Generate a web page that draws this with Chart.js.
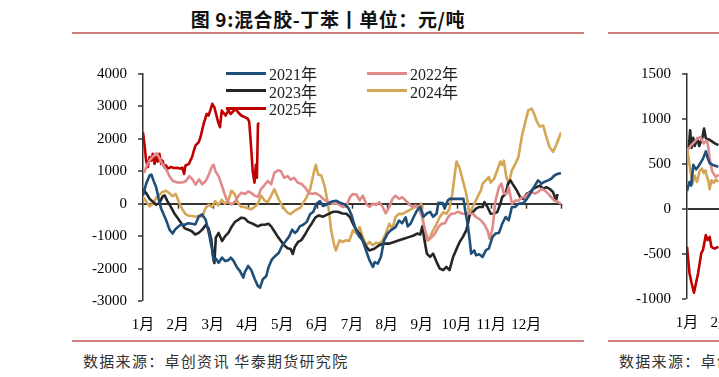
<!DOCTYPE html>
<html lang="zh-CN">
<head>
  <meta charset="UTF-8">
  <title>混合胶-丁苯</title>
  <script src="https://cdn.jsdelivr.net/npm/chart.js@4.4.1/dist/chart.umd.min.js"></script>
  <style>
    html, body { margin: 0; padding: 0; background: #fff; width: 719px; height: 377px; overflow: hidden; }
    body { position: relative; }
    .title { position: absolute; top: 8px; width: 512px; text-align: center; font: bold 19px "Noto Sans CJK SC", sans-serif; letter-spacing: 0.6px; color: #111; line-height: 22px; white-space: nowrap; }
    .rule { position: absolute; height: 2px; width: 512px; background: #d07f7f; }
    .source { position: absolute; top: 350px; font: 15px "Noto Sans CJK SC", sans-serif; color: #333; white-space: nowrap; letter-spacing: 1.3px; }
    .box { position: absolute; }
    .legend-item { position: absolute; height: 18px; display: flex; align-items: center; font: 16px "Liberation Serif", "Noto Sans CJK SC", serif; color: #222; white-space: nowrap; }
    .legend-item span.mark { display: inline-block; width: 40px; height: 3px; margin-right: 3px; }
  </style>
</head>
<body>
  <div class="title" style="left:72px">图 9:混合胶-丁苯丨单位：元/吨</div>
  <div class="rule" style="left:72px; top:32px"></div>
  <div class="rule" style="left:72px; top:340px"></div>
  <div class="source" style="left:83px">数据来源：卓创资讯 华泰期货研究院</div>

  <div class="title" style="left:608px">图 10:混合胶-顺丁丨单位：元/吨</div>
  <div class="rule" style="left:608px; top:32px"></div>
  <div class="rule" style="left:608px; top:340px"></div>
  <div class="source" style="left:619px">数据来源：卓创资讯 华泰期货研究院</div>

  <div class="box" style="left:88px; top:54px; width:480px; height:279px"><canvas id="main"></canvas></div>
  <div class="box" style="left:627px; top:54px; width:485px; height:277px"><canvas id="side"></canvas></div>
  <div id="legend"></div>

  <script>
    // month labels on the x axis
    const monthLabels = ['1月', '2月', '3月', '4月', '5月', '6月', '7月', '8月', '9月', '10月', '11月', '12月'];
    const seriesNames = ['2021年', '2022年', '2023年', '2024年', '2025年'];
    const seriesColors = ['#1f4e79', '#e08a8a', '#262626', '#d4a656', '#c00000'];

    // main chart: [month position, 元/吨]
    const spread2021 = [[0,250],[0.09,615],[0.19,870],[0.24,900],[0.3,720],[0.38,500],[0.45,150],[0.52,-150],[0.6,-350],[0.68,-550],[0.76,-800],[0.85,-920],[0.92,-800],[1.0,-720],[1.09,-640],[1.2,-650],[1.3,-600],[1.4,-620],[1.5,-640],[1.6,-400],[1.7,-330],[1.8,-500],[1.89,-900],[1.98,-1400],[2.03,-1750],[2.1,-1700],[2.17,-1820],[2.27,-1660],[2.36,-1770],[2.45,-1740],[2.52,-1660],[2.6,-1760],[2.69,-1950],[2.78,-2070],[2.88,-2280],[2.92,-2120],[3.02,-1920],[3.11,-2050],[3.21,-2330],[3.3,-2540],[3.36,-2590],[3.44,-2330],[3.54,-2230],[3.6,-1970],[3.7,-1720],[3.8,-1610],[3.9,-1510],[4.0,-1280],[4.1,-1150],[4.2,-1000],[4.28,-800],[4.36,-900],[4.42,-850],[4.5,-700],[4.6,-650],[4.7,-560],[4.8,-320],[4.89,-250],[4.98,0],[5.08,80],[5.17,-70],[5.26,-30],[5.4,60],[5.54,90],[5.68,20],[5.8,-30],[5.9,-140],[5.98,-330],[6.08,-700],[6.2,-1000],[6.3,-1120],[6.4,-1430],[6.5,-1740],[6.6,-1950],[6.65,-1800],[6.74,-1850],[6.83,-1640],[6.92,-1130],[7.02,-920],[7.11,-820],[7.25,-720],[7.35,-520],[7.44,-600],[7.54,-420],[7.6,-700],[7.68,-620],[7.77,-410],[7.86,-220],[7.96,-100],[8.05,-400],[8.15,-300],[8.24,-250],[8.33,-400],[8.43,-300],[8.48,30],[8.6,20],[8.66,-150],[8.75,100],[8.8,150],[9.0,150],[9.2,150],[9.25,-200],[9.33,-700],[9.38,-1130],[9.42,-1540],[9.51,-1440],[9.56,-1590],[9.65,-1560],[9.75,-1640],[9.84,-1440],[9.93,-1380],[10.03,-1030],[10.12,-920],[10.22,-900],[10.31,-620],[10.41,-410],[10.5,-510],[10.59,-100],[10.69,-100],[10.78,0],[10.92,20],[11.02,150],[11.11,300],[11.25,560],[11.34,720],[11.44,620],[11.53,680],[11.63,720],[11.72,770],[11.81,870],[11.9,920],[12.0,940]];
    const spread2022 = [[0.03,950],[0.1,1150],[0.2,1350],[0.29,1460],[0.39,1560],[0.45,1450],[0.52,1300],[0.6,1150],[0.67,1050],[0.76,850],[0.86,700],[1.0,650],[1.15,660],[1.23,700],[1.33,850],[1.42,750],[1.51,590],[1.61,750],[1.7,600],[1.8,700],[1.89,900],[1.98,1150],[2.03,1200],[2.08,1000],[2.17,850],[2.27,540],[2.36,240],[2.45,40],[2.55,-20],[2.64,60],[2.74,240],[2.83,340],[2.93,300],[3.02,380],[3.11,330],[3.2,250],[3.3,210],[3.39,460],[3.48,560],[3.58,700],[3.68,600],[3.77,950],[3.87,1030],[3.96,1000],[4.05,800],[4.15,850],[4.24,740],[4.34,800],[4.43,660],[4.56,600],[4.67,480],[4.76,330],[4.86,300],[4.94,330],[5.08,250],[5.17,150],[5.31,50],[5.45,0],[5.59,0],[5.73,-100],[5.84,-80],[5.94,200],[6.03,300],[6.13,280],[6.22,100],[6.31,250],[6.41,0],[6.5,-100],[6.6,0],[6.69,-40],[6.78,50],[6.88,-100],[6.97,-300],[7.07,-100],[7.16,150],[7.25,250],[7.35,150],[7.44,200],[7.54,100],[7.63,0],[7.73,-100],[7.82,-50],[7.91,-100],[8.01,-410],[8.1,-820],[8.19,-1130],[8.29,-1030],[8.38,-920],[8.48,-720],[8.57,-620],[8.67,-600],[8.76,-410],[8.85,-310],[8.95,-300],[9.04,-250],[9.18,-310],[9.33,-300],[9.47,-310],[9.56,-410],[9.7,-510],[9.79,-620],[9.89,-820],[9.95,-1080],[10.03,-800],[10.12,100],[10.22,510],[10.29,620],[10.36,310],[10.45,320],[10.5,510],[10.59,0],[10.69,100],[10.78,100],[10.88,200],[10.97,200],[11.06,310],[11.16,360],[11.25,310],[11.34,360],[11.44,460],[11.53,410],[11.63,310],[11.72,200],[11.81,100],[11.91,50],[12.0,0]];
    const spread2023 = [[0,450],[0.09,330],[0.19,150],[0.28,60],[0.38,-30],[0.47,20],[0.56,220],[0.62,260],[0.7,80],[0.8,-100],[0.9,-300],[1.0,-450],[1.1,-600],[1.2,-760],[1.3,-800],[1.4,-850],[1.5,-950],[1.6,-900],[1.7,-800],[1.8,-660],[1.88,-750],[1.96,-1100],[2.02,-1700],[2.05,-1830],[2.09,-1050],[2.17,-900],[2.27,-1150],[2.36,-1000],[2.45,-900],[2.55,-700],[2.64,-560],[2.73,-500],[2.82,-430],[2.92,-450],[3.02,-560],[3.11,-600],[3.21,-650],[3.3,-700],[3.4,-650],[3.5,-650],[3.6,-620],[3.68,-700],[3.77,-850],[3.86,-1000],[3.96,-1150],[4.05,-1280],[4.15,-1370],[4.24,-1400],[4.3,-1550],[4.36,-1330],[4.45,-1180],[4.55,-1120],[4.65,-950],[4.75,-760],[4.85,-600],[4.95,-420],[5.05,-360],[5.17,-400],[5.3,-330],[5.45,-250],[5.59,-250],[5.73,-300],[5.84,-310],[5.94,-410],[6.03,-620],[6.13,-820],[6.22,-920],[6.31,-1130],[6.41,-1330],[6.5,-1440],[6.64,-1390],[6.78,-1280],[6.92,-1230],[7.07,-1230],[7.21,-1180],[7.35,-1130],[7.49,-1080],[7.63,-1030],[7.77,-980],[7.87,-920],[7.96,-950],[8.02,-700],[8.08,-1130],[8.15,-1540],[8.24,-1640],[8.33,-1540],[8.43,-1800],[8.52,-2000],[8.62,-2050],[8.71,-1950],[8.8,-2050],[8.9,-1650],[9.0,-1400],[9.09,-1180],[9.18,-1030],[9.28,-820],[9.33,-620],[9.37,-360],[9.47,-260],[9.56,-150],[9.65,-100],[9.75,-100],[9.8,50],[9.89,-100],[9.98,-310],[10.08,-300],[10.17,-260],[10.26,0],[10.31,200],[10.41,310],[10.48,620],[10.55,720],[10.64,560],[10.73,410],[10.83,200],[10.92,150],[11.02,310],[11.11,360],[11.2,460],[11.3,510],[11.39,560],[11.49,460],[11.58,510],[11.67,460],[11.77,360],[11.86,100],[11.9,300]];
    const spread2024 = [[0,200],[0.09,80],[0.19,-80],[0.28,0],[0.38,180],[0.47,280],[0.56,360],[0.66,400],[0.75,330],[0.85,230],[0.94,300],[1.03,50],[1.13,-170],[1.22,-320],[1.32,-370],[1.42,-380],[1.51,-400],[1.6,-370],[1.7,-400],[1.79,-150],[1.88,-30],[1.98,-100],[2.07,80],[2.16,-50],[2.26,120],[2.35,0],[2.45,100],[2.54,400],[2.63,300],[2.73,20],[2.82,-100],[2.92,-100],[3.02,-150],[3.11,-170],[3.2,-100],[3.3,0],[3.39,250],[3.49,100],[3.58,50],[3.68,250],[3.77,450],[3.87,200],[3.96,0],[4.05,-150],[4.15,-280],[4.24,-320],[4.34,-230],[4.43,-170],[4.52,-120],[4.61,50],[4.7,200],[4.8,450],[4.89,900],[4.96,1200],[5.03,900],[5.12,870],[5.22,510],[5.31,0],[5.36,-410],[5.4,-820],[5.5,-1330],[5.54,-1440],[5.64,-1130],[5.73,-1180],[5.82,-1130],[5.92,-1150],[6.03,-820],[6.13,-920],[6.22,-720],[6.31,-1030],[6.41,-1280],[6.5,-1180],[6.6,-1280],[6.69,-1200],[6.78,-1230],[6.88,-1130],[6.97,-920],[7.07,-620],[7.16,-770],[7.25,-410],[7.35,-310],[7.44,-320],[7.54,-260],[7.63,-210],[7.73,-150],[7.82,-100],[7.91,-120],[7.99,0],[8.05,-620],[8.15,-1130],[8.24,-1030],[8.33,-820],[8.43,-620],[8.52,-410],[8.62,-260],[8.71,-310],[8.8,-150],[8.88,300],[8.95,900],[9.0,1300],[9.09,1100],[9.18,720],[9.28,310],[9.33,0],[9.37,-400],[9.42,-200],[9.51,0],[9.6,200],[9.7,410],[9.75,620],[9.84,720],[9.93,820],[9.98,650],[10.08,770],[10.17,1030],[10.26,1300],[10.31,1200],[10.36,1330],[10.43,820],[10.5,620],[10.59,1030],[10.69,1230],[10.78,1450],[10.88,2100],[10.97,2500],[11.06,2880],[11.16,2930],[11.23,2770],[11.3,2550],[11.39,2380],[11.49,2410],[11.58,2050],[11.67,1750],[11.77,1600],[11.86,1800],[11.95,2050],[12.0,2200]];
    const spread2025 = [[0,2200],[0.05,1750],[0.09,1330],[0.14,1130],[0.19,1440],[0.24,1330],[0.28,1540],[0.33,1230],[0.38,1440],[0.42,1300],[0.47,1540],[0.52,1230],[0.56,1330],[0.61,1130],[0.66,1180],[0.71,1080],[0.8,1130],[0.89,1100],[0.99,1110],[1.08,1080],[1.13,1110],[1.18,920],[1.22,1180],[1.32,1230],[1.36,1330],[1.41,1440],[1.46,1640],[1.51,1800],[1.6,1900],[1.65,2050],[1.74,2460],[1.83,2770],[1.88,2720],[1.93,2870],[1.99,3080],[2.05,2970],[2.12,2670],[2.16,2510],[2.21,2360],[2.26,2870],[2.3,2820],[2.37,2720],[2.45,2870],[2.52,2770],[2.59,2850],[2.65,2920],[2.73,2820],[2.82,2720],[2.92,2670],[3.01,2620],[3.05,2520],[3.1,1800],[3.15,1000],[3.2,650],[3.24,1200],[3.27,800],[3.3,2450],[3.33,2500]];

    // right-hand chart (only its first weeks are in view)
    const side2021 = [[0,200],[0.07,300],[0.12,260],[0.18,490],[0.26,440],[0.32,470],[0.4,520],[0.46,560],[0.54,640],[0.6,560],[0.65,510],[0.74,490],[0.9,470]];
    const side2022 = [[0,650],[0.1,700],[0.2,740],[0.29,780],[0.38,800],[0.48,730],[0.56,760],[0.6,720],[0.65,560],[0.72,420],[0.82,360],[0.92,380]];
    const side2023 = [[0.05,680],[0.09,875],[0.13,680],[0.18,790],[0.22,700],[0.3,785],[0.35,700],[0.44,790],[0.49,895],[0.54,785],[0.64,770],[0.8,730],[0.9,710]];
    const side2024 = [[0,680],[0.05,550],[0.1,420],[0.16,280],[0.22,370],[0.29,300],[0.36,420],[0.43,450],[0.48,400],[0.53,430],[0.58,350],[0.62,300],[0.65,220],[0.7,320],[0.77,290],[0.83,330],[0.9,300]];
    const side2025 = [[0,-420],[0.07,-710],[0.13,-820],[0.2,-930],[0.25,-840],[0.32,-710],[0.41,-490],[0.46,-455],[0.54,-290],[0.59,-345],[0.65,-310],[0.7,-420],[0.79,-440],[0.9,-420]];

    const serif = '"Liberation Serif", "Noto Sans CJK SC", serif';

    // little tick marks hanging under the zero line at each month
    const zeroTicks = {
      id: 'zeroTicks',
      beforeDatasetsDraw(chart) {
        const x = chart.scales.x, y = chart.scales.y;
        const y0 = y.getPixelForValue(0);
        const ctx = chart.ctx;
        ctx.save();
        ctx.strokeStyle = '#333';
        ctx.lineWidth = 1.5;
        for (let m = 1; m <= 12; m++) {
          const px = Math.round(x.getPixelForValue(m)) + 0.5;
          ctx.beginPath();
          ctx.moveTo(px, y0);
          ctx.lineTo(px, y0 + 5);
          ctx.stroke();
        }
        ctx.restore();
      }
    };

    function buildDatasets(list) {
      return list.map((pts, i) => ({
        label: seriesNames[i],
        data: pts.map(p => ({ x: p[0], y: p[1] })),
        borderColor: seriesColors[i],
        backgroundColor: seriesColors[i],
        borderWidth: 2.6,
        pointRadius: 0,
        tension: 0,
        fill: false,
        borderJoinStyle: 'round'
      }));
    }

    function buildOptions(yMin, yMax, yStep, yWidth) {
      return {
        responsive: true,
        maintainAspectRatio: false,
        animation: false,
        layout: { padding: 0 },
        plugins: { legend: { display: false }, tooltip: { enabled: false } },
        scales: {
          x: {
            type: 'linear', min: 0, max: 12,
            grid: { display: false },
            border: { display: false },
            ticks: {
              stepSize: 1, autoSkip: false, maxRotation: 0, padding: 7,
              color: '#000', font: { family: serif, size: 15 },
              callback: v => (v < 12 ? monthLabels[v] : '')
            },
            afterFit: s => { s.height = 32; }
          },
          y: {
            min: yMin, max: yMax,
            grid: {
              color: c => (c.tick && c.tick.value === 0 ? '#333' : 'rgba(0,0,0,0)'),
              lineWidth: c => (c.tick && c.tick.value === 0 ? 2 : 0),
              tickColor: '#333', tickLength: 5, tickWidth: 1.5
            },
            border: { display: true, color: '#333', width: 1.5 },
            ticks: {
              stepSize: yStep, padding: 11,
              color: '#000', font: { family: serif, size: 15 },
              callback: v => String(v)
            },
            afterFit: s => { s.width = yWidth; }
          }
        }
      };
    }

    new Chart(document.getElementById('main'), {
      type: 'line',
      data: { datasets: buildDatasets([spread2021, spread2022, spread2023, spread2024, spread2025]) },
      options: buildOptions(-3000, 4000, 1000, 55),
      plugins: [zeroTicks]
    });

    new Chart(document.getElementById('side'), {
      type: 'line',
      data: { datasets: buildDatasets([side2021, side2022, side2023, side2024, side2025]) },
      options: buildOptions(-1000, 1500, 500, 60),
      plugins: [zeroTicks]
    });

    // legend: two columns, filled row by row
    const legend = document.getElementById('legend');
    seriesNames.forEach((name, i) => {
      const item = document.createElement('div');
      item.className = 'legend-item';
      item.style.left = (226 + (i % 2) * 141) + 'px';
      item.style.top = (64 + Math.floor(i / 2) * 17.5) + 'px';
      item.innerHTML = '<span class="mark" style="background:' + seriesColors[i] + '"></span>' + name;
      legend.appendChild(item);
    });
  </script>
</body>
</html>
